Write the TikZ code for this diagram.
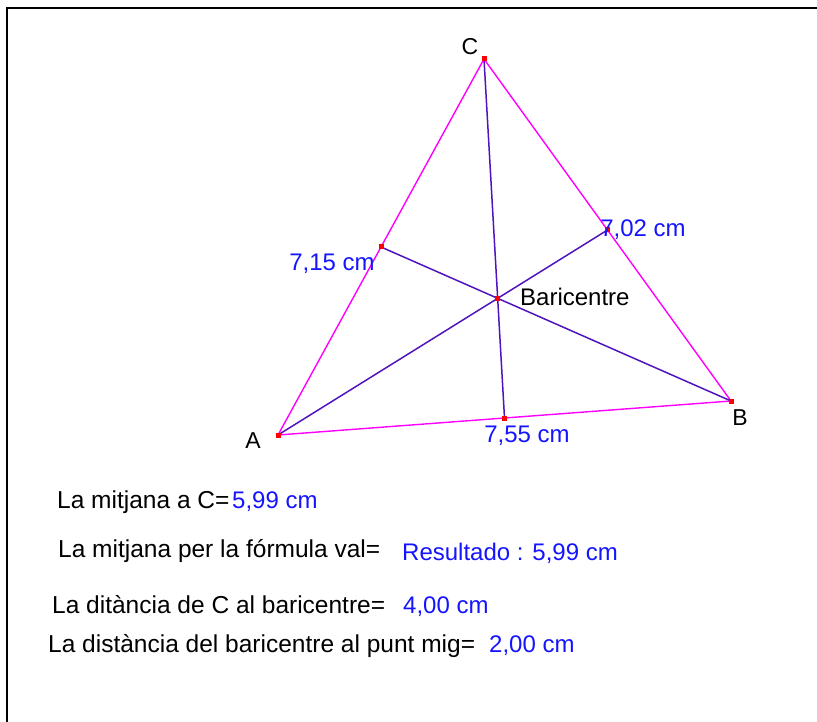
\documentclass[tikz,border=0pt]{standalone}
\usepackage{fontspec}
\setmainfont{Liberation Sans}
\usetikzlibrary{calc}

\definecolor{sidecol}{RGB}{255,0,255}
\definecolor{mediancol}{RGB}{80,20,190}
\definecolor{valuecol}{RGB}{20,20,255}

\begin{document}
\begin{tikzpicture}[
    x=1pt, y=-1pt,
    side/.style={draw=sidecol, line width=1.4pt},
    median/.style={draw=mediancol, line width=1.5pt},
    point/.style={fill=red, inner sep=0pt, minimum size=5pt},
    label/.style={inner sep=0pt, font=\fontsize{23}{27}\selectfont},
    value/.style={inner sep=0pt, anchor=west, text=valuecol,
        font=\fontsize{24}{28}\selectfont},
    line/.style={inner sep=0pt, anchor=west, font=\fontsize{24.5}{29}\selectfont}
]
\useasboundingbox (0,0) rectangle (817,722);
% Frame: only the top and the left edge show.
\draw[line width=2.2pt] (7,722) -- (7,8) -- (817,8);

% Vertices, midpoints of the sides and the centroid.
\coordinate (A) at (278,435);
\coordinate (B) at (731,401);
\coordinate (C) at (484,59);
\coordinate (mAB) at ($(A)!0.5!(B)$);
\coordinate (mAC) at ($(A)!0.5!(C)$);
\coordinate (mBC) at ($(B)!0.5!(C)$);
\coordinate (G) at ($(A)!2/3!(mBC)$);

\draw[side] (A) -- (B) -- (C) -- cycle;
\draw[median] (A) -- (mBC);
\draw[median] (B) -- (mAC);
\draw[median] (C) -- (mAB);

\foreach \p in {A,B,C,mAB,mAC,mBC,G}{
    \node[point] at (\p) {};
}

\node[label] (labA) at (253,441) {A};
\node[label] (labB) at (740,418) {B};
\node[label] (labC) at (470,47)  {C};
\node[label, anchor=west, font=\fontsize{24}{28}\selectfont] (labG)
    at (520,297) {Baricentre};

\node[value, anchor=center] (lenAC) at (332,264) {7,15 cm};
\node[value, anchor=center] (lenBC) at (643,230) {7,02 cm};
\node[value, anchor=center] (lenAB) at (527,436) {7,55 cm};

% Results below the triangle.
\node[line]  (t1) at (57,502) {La mitjana a C=};
\node[value] (v1) at (232,502) {5,99 cm};
\node[line]  (t2) at (58,551) {La mitjana per la fórmula val=};
\node[value] (v2) at (402,553) {Resultado : 5,99 cm};
\node[line]  (t3) at (52,605) {La ditància de C al baricentre=};
\node[value] (v3) at (403,607) {4,00 cm};
\node[line]  (t4) at (48,646) {La distància del baricentre al punt mig=};
\node[value] (v4) at (489,646) {2,00 cm};
\end{tikzpicture}
\end{document}
